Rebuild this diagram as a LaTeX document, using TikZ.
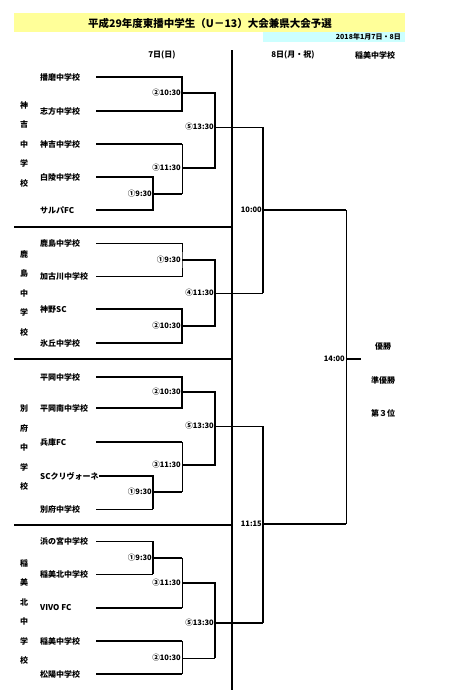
\documentclass[tikz,border=0pt]{standalone}
\usepackage{fontspec}
\setmainfont{Noto Sans CJK JP}
\usetikzlibrary{positioning}
\definecolor{titleyellow}{RGB}{255,255,153}
\definecolor{datecyan}{RGB}{204,255,255}

\begin{document}
\begin{tikzpicture}[
        x=1pt, y=-1pt,
        team/.style={anchor=west, inner sep=0pt, font=\bfseries\fontsize{8}{9}\selectfont},
        time/.style={anchor=east, inner sep=1pt, font=\bfseries\fontsize{7.5}{8}\selectfont},
        school/.style={align=center, inner sep=0pt, font=\bfseries\fontsize{8}{19.5}\selectfont},
        head/.style={inner sep=0pt, font=\bfseries\fontsize{8}{9}\selectfont},
        wide/.style={line width=1.6pt},
        fine/.style={line width=0.6pt}
    ]
        \useasboundingbox (0,0) rectangle (454,699);

        % title bars
        \fill[titleyellow] (14,13) rectangle (405,32);
        \fill[datecyan] (263,32) rectangle (405,42);
        \node[head, font=\bfseries\fontsize{10.5}{12}\selectfont] (title) at (210,23) {平成29年度東播中学生（U－13）大会兼県大会予選};
        \node[head, anchor=east, font=\bfseries\fontsize{7}{8}\selectfont] (date) at (401,37) {2018年1月7日・8日};
        \node[head] (day1) at (162,55) {7日(日)};
        \node[head] (day2) at (293,55) {8日(月・祝)};
        \node[head] (venue) at (375,55) {稲美中学校};

        % columns
        \coordinate (L) at (96,0);
        \coordinate (A) at (153,0);
        \coordinate (B) at (182,0);
        \coordinate (C) at (215,0);
        \coordinate (D) at (263,0);
        \coordinate (E) at (346,0);
        \coordinate (F) at (361,0);

        % day split and blocks
        \draw[line width=1.8pt] (232,50) -- (232,690);
        \foreach \y in {227,359,525}
            \draw[wide] (14,\y) -- (232,\y);

        \node[school] (kanki) at (24,144) {神\\吉\\中\\学\\校};
        \node[school] (kashima) at (24,293) {鹿\\島\\中\\学\\校};
        \node[school] (beppu) at (24,448) {別\\府\\中\\学\\校};
        \node[school] (inamikita) at (24,612) {稲\\美\\北\\中\\学\\校};

        % block 1
        \node[team] (k1) at (40,77) {播磨中学校};
        \node[team] (k2) at (40,111) {志方中学校};
        \node[team] (k3) at (40,144) {神吉中学校};
        \node[team] (k4) at (40,177) {白陵中学校};
        \node[team] (k5) at (40,210) {サルパFC};
        \coordinate (k-m1) at (153,194);
        \coordinate (k-m2) at (182,93);
        \coordinate (k-m3) at (182,168);
        \coordinate (k-m5) at (215,127);
        \node[time] at (k-m1) {①9:30};
        \node[time] at (k-m2) {②10:30};
        \node[time] at (k-m3) {③11:30};
        \node[time] at (k-m5) {⑤13:30};
        \draw[wide] (k1 -| L) -| (k-m2) |- (k2 -| L);
        \draw[wide] (k4 -| L) -| (k-m1) |- (k5 -| L);
        \draw[wide] (k3 -| L) -- (k3 -| B);
        \draw[fine] (k3 -| B) -- (k-m1 -| B);
        \draw[wide] (k-m1) -- (k-m1 -| B);
        \draw[wide] (k-m2) -| (k-m5) |- (k-m3);
        \draw[fine] (k-m5) -- (k-m5 -| D);

        % block 2
        \node[team] (h1) at (40,243) {鹿島中学校};
        \node[team] (h2) at (40,276) {加古川中学校};
        \node[team] (h3) at (40,309) {神野SC};
        \node[team] (h4) at (40,343) {氷丘中学校};
        \coordinate (h-m1) at (182,260);
        \coordinate (h-m2) at (182,326);
        \coordinate (h-m4) at (215,293);
        \node[time] at (h-m1) {①9:30};
        \node[time] at (h-m2) {②10:30};
        \node[time] at (h-m4) {④11:30};
        \draw[fine] (h1 -| L) -| (h-m1) |- (h2 -| L);
        \draw[wide] (h3 -| L) -| (h-m2) |- (h4 -| L);
        \draw[wide] (h-m1) -| (h-m4) |- (h-m2);
        \draw[fine] (h-m4) -- (h-m4 -| D);

        % block 3
        \node[team] (b1) at (40,377) {平岡中学校};
        \node[team] (b2) at (40,408) {平岡南中学校};
        \node[team] (b3) at (40,442) {兵庫FC};
        \node[team] (b4) at (40,476) {SCクリヴォーネ};
        \node[team] (b5) at (40,509) {別府中学校};
        \coordinate (b-m1) at (153,492);
        \coordinate (b-m2) at (182,392);
        \coordinate (b-m3) at (182,465);
        \coordinate (b-m5) at (215,426);
        \node[time] at (b-m1) {①9:30};
        \node[time] at (b-m2) {②10:30};
        \node[time] at (b-m3) {③11:30};
        \node[time] at (b-m5) {⑤13:30};
        \draw[wide] (b1 -| L) -| (b-m2) |- (b2 -| L);
        \draw[wide] (b4.east) -| (b5 -| A);
        \draw[fine] (b5 -| A) -- (b5 -| L);
        \draw[wide] (b3 -| L) -- (b3 -| B);
        \draw[fine] (b3 -| B) -- (b-m1 -| B);
        \draw[wide] (b-m1) -- (b-m1 -| B);
        \draw[wide] (b-m2) -| (b-m5) |- (b-m3);
        \draw[fine] (b-m5) -- (b-m5 -| D);

        % block 4
        \node[team] (n1) at (40,541) {浜の宮中学校};
        \node[team] (n2) at (40,574) {稲美北中学校};
        \node[team] (n3) at (40,608) {VIVO FC};
        \node[team] (n4) at (40,641) {稲美中学校};
        \node[team] (n5) at (40,674) {松陽中学校};
        \coordinate (n-m1) at (153,558);
        \coordinate (n-m2) at (182,658);
        \coordinate (n-m3) at (182,583);
        \coordinate (n-m5) at (215,623);
        \node[time] at (n-m1) {①9:30};
        \node[time] at (n-m2) {②10:30};
        \node[time] at (n-m3) {③11:30};
        \node[time] at (n-m5) {⑤13:30};
        \draw[fine] (n1 -| L) -- (n1 -| A);
        \draw[fine] (n2 -| L) -- (n2 -| A);
        \draw[wide] (n1 -| A) -- (n2 -| A);
        \draw[wide] (n-m1) -- (n-m1 -| B);
        \draw[fine] (n-m1 -| B) -- (n3 -| B);
        \draw[wide] (n3 -| L) -- (n3 -| B);
        \draw[wide] (n4 -| L) -- (n4 -| B);
        \draw[wide] (n5 -| L) -- (n5 -| B);
        \draw[fine] (n4 -| B) -- (n5 -| B);
        \draw[fine] (n-m2) -- (n-m2 -| C);
        \draw[wide] (n-m3) -| (n-m2 -| C);
        \draw[wide] (n-m5) -- (n-m5 -| D);

        % day 2
        \coordinate (semi1) at (263,210);
        \coordinate (semi2) at (263,524);
        \coordinate (final) at (346,359);
        \node[time] at (semi1) {10:00};
        \node[time] at (semi2) {11:15};
        \node[time] at (final) {14:00};
        \draw[wide] (k-m5 -| D) -- (h-m4 -| D);
        \draw[wide] (b-m5 -| D) -- (n-m5 -| D);
        \draw[wide] (semi1) -- (semi1 -| E);
        \draw[fine] (semi1 -| E) -- (semi2 -| E);
        \draw[wide] (semi2) -- (semi2 -| E);
        \draw[wide] (final) -- (final -| F);

        \node[head] (first) at (383,346) {優勝};
        \node[head] (second) at (383,380) {準優勝};
        \node[head] (third) at (383,413) {第３位};
    \end{tikzpicture}
\end{document}
